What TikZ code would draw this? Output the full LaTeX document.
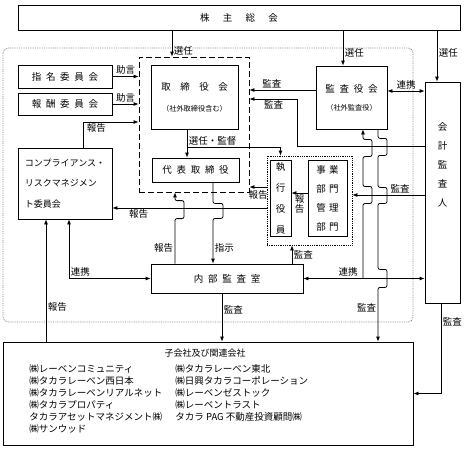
\documentclass[tikz,border=0pt]{standalone}
\usepackage{fontspec}
\setmainfont{Noto Sans CJK JP}
\usepackage{tikz}
\usetikzlibrary{arrows.meta, calc}

\begin{document}
\begin{tikzpicture}[x=1pt, y=-1pt, line width=0.8pt,
	box/.style={draw, inner sep=0pt, font=\fontsize{9.5}{12}\selectfont},
	lbl/.style={font=\fontsize{9.5}{10}\selectfont, inner sep=1.5pt},
	arr/.style={-{Latex[length=5pt, width=4pt]}},
	dbl/.style={{Latex[length=5pt, width=4pt]}-{Latex[length=5pt, width=4pt]}}]
			\useasboundingbox (0,0) rectangle (467,450);

			% Draw the group frame
			\draw[gray, densely dotted, rounded corners=5pt] (3,48) rectangle (413,322);

			% Draw the boxes
			\node[box, minimum width=442, minimum height=25] (soukai) at (239,17.5) {株\hspace{1.4em}主\hspace{1.4em}総\hspace{1.4em}会};
			\node[box, dash pattern=on 6pt off 3pt, minimum width=110, minimum height=135] (board) at (194,124.5) {};
			\node[box, align=center, minimum width=87, minimum height=64] (torikai) at (194.5,97) {取　締　役　会\\[9pt]{\fontsize{7.2}{9}\selectfont （社外取締役含む）}};
			\node[box, minimum width=87, minimum height=24] (daihyo) at (195.5,170) {代\enspace 表\enspace 取\enspace 締\enspace 役};
			\node[box, minimum width=94, minimum height=23] (shimei) at (65,76.5) {指\enspace 名\enspace 委\enspace 員\enspace 会};
			\node[box, minimum width=94, minimum height=22] (hoshu) at (65,104) {報\enspace 酬\enspace 委\enspace 員\enspace 会};
			\node[box, align=left, minimum width=94, minimum height=71, font=\fontsize{9}{20.5}\selectfont] (comp) at (65,183.5) {コンプライアンス・\\リスクマネジメン\\ト委員会};
			\node[box, align=center, minimum width=71, minimum height=63] (kansa) at (351.5,97.5) {監\enspace 査\enspace 役\enspace 会\\[6pt]{\fontsize{7.2}{9}\selectfont （社外監査役）}};
			\node[box, minimum width=35, minimum height=221] (kaikei) at (442.5,192.5) {};
			\node[align=center, font=\fontsize{9.5}{19}\selectfont] (kaikeitxt) at (442.5,165) {会\\計\\監\\査\\人};
			\node[box, densely dotted, minimum width=85, minimum height=89] (shikkogrp) at (309.5,200.5) {};
			\node[box, align=center, minimum width=21, minimum height=76, font=\fontsize{9.5}{21}\selectfont] (shikko) at (280.5,198) {執\\行\\役\\員};
			\node[box, align=center, minimum width=39, minimum height=76, font=\fontsize{9.5}{19}\selectfont] (jigyo) at (327.5,198) {事\hspace{3.5pt}業\\部\hspace{3.5pt}門\\管\hspace{3.5pt}理\\部\hspace{3.5pt}門};
			\node[box, minimum width=152, minimum height=29] (naibu) at (227,278.5) {内\enspace 部\enspace 監\enspace 査\enspace 室};
			\node[box, minimum width=410, minimum height=103] (kogaisha) at (208,393.5) {};

			% Draw the group companies
			\node[font=\fontsize{9}{12}\selectfont] (kgtitle) at (205,353) {子会社及び関連会社};
			\node[anchor=north west, inner sep=0pt, font=\fontsize{9.5}{12}\selectfont] (kglist) at (29,364) {%
				\begin{tabular}{@{}p{146pt}@{}l@{}}
				㈱レーベンコミュニティ & ㈱タカラレーベン東北\\
				㈱タカラレーベン西日本 & ㈱日興タカラコーポレーション\\
				㈱タカラレーベンリアルネット & ㈱レーベンゼストック\\
				㈱タカラプロパティ & ㈱レーベントラスト\\
				タカラアセットマネジメント㈱ & タカラ PAG 不動産投資顧問㈱\\
				㈱サンウッド &
				\end{tabular}};

			% Draw the arrows from the shareholders
			\draw[arr] ([xshift=-22pt]board.north |- soukai.south) -- node[lbl, right, pos=0.8] {選任} ([xshift=-22pt]board.north);
			\draw[arr] ([xshift=-8.5pt]kansa.north |- soukai.south) -- node[lbl, right, pos=0.64] {選任} ([xshift=-8.5pt]kansa.north);
			\draw[arr] ([xshift=-5.5pt]kaikei.north |- soukai.south) -- node[lbl, right, pos=0.44] {選任} ([xshift=-5.5pt]kaikei.north);

			% Draw the committees
			\draw[arr] (shimei.east) -- node[lbl, above] {助言} (shimei.east -| board.west);
			\draw[arr] (hoshu.east) -- node[lbl, above] {助言} (hoshu.east -| board.west);
			\draw[arr] ([xshift=18pt]comp.north) |- node[lbl, below, pos=0.62] {報告} ([yshift=2.5pt]board.west);

			% Draw the board arrows
			\coordinate (sel) at (187,147);
			\draw[arr] ([xshift=-7.5pt]torikai.south) -- ([xshift=-7.5pt]torikai.south |- daihyo.north);
			\draw[arr] (sel) node[lbl, above right] {選任・監督} -| (shikkogrp.north -| shikko.north);

			% Draw the audit arrows
			\draw[arr] ([yshift=7.5pt]kansa.west) -- node[lbl, above, pos=0.66] {監査} ([yshift=7.5pt]kansa.west -| board.east);
			\draw[arr] ([yshift=46.5pt]kaikei.west) -- ++(-127,0) |- node[lbl, below, pos=0.75] {監査} ([yshift=25.5pt]board.east);
			\draw[dbl] ([yshift=6.5pt]kansa.east) -- node[lbl, above] {連携} ([yshift=6.5pt]kansa.east -| kaikei.west);
			\draw[arr] ([yshift=-2.5pt]kaikei.west) -- node[lbl, above, pos=0.34] {監査} ([yshift=-2.5pt]kaikei.west -| shikkogrp.east);

			% Draw the reports of the officers
			\draw[arr] ([yshift=5pt]jigyo.west) -- node[lbl, below, align=center] {報\\告} ([yshift=5pt]jigyo.west -| shikko.east);
			\draw[arr] ([yshift=13.5pt]shikkogrp.west) -- node[lbl, below, yshift=-2pt] {報告} ([yshift=13.5pt]shikkogrp.west -| board.east);
			\draw[arr] ([yshift=-7.5pt]shikkogrp.west) -- node[lbl, below, pos=0.83] {報告} ([yshift=-7.5pt]shikkogrp.west -| comp.east);

			% Draw the internal audit arrows (with jumps)
			\draw[arr, rounded corners=2pt] ([xshift=-52pt]naibu.north) -- node[lbl, left, pos=0.35] {報告} ++(0,-45) -- ++(9,0) -- ++(0,-18) -- ++(-9,0) -- ([xshift=-52pt]naibu.north |- board.south);
			\draw[arr, rounded corners=2pt] ([xshift=17.5pt]daihyo.south) -- ++(0,21) -- ++(10,0) -- ++(0,15) -- ++(-10,0) -- node[lbl, right, pos=0.65] {指示} ([xshift=17.5pt]daihyo.south |- naibu.north);
			\draw[arr] ([xshift=65pt]naibu.north) -- node[lbl, right] {監査} ([xshift=65pt]naibu.north |- shikkogrp.south);
			\draw[dbl] ([xshift=4pt]comp.south) |- node[lbl, above, pos=0.57] {連携} (naibu.west);
			\draw[arr] ([xshift=-162pt]kogaisha.north) -- node[lbl, right, pos=0.28] {報告} ([xshift=-162pt]kogaisha.north |- comp.south);
			\draw[arr] ([xshift=-5pt]naibu.south) -- node[lbl, right, pos=0.35] {監査} ([xshift=-5pt]naibu.south |- kogaisha.north);
			\draw[dbl] (naibu.east) -- node[lbl, above, pos=0.37] {連携} (naibu.east -| kaikei.west);

			% Draw the lines of the audit board
			\coordinate (jA) at ([xshift=11.5pt]kansa.south |- naibu.east);
			\draw[arr, rounded corners=2pt] (jA) -- ++(0,-75) -- ++(9,0) -- ++(0,-17) -- ++(-9,0) -- ++(0,-30) -- ++(9,0) -- ++(0,-17) -- ++(-9,0) -- (jA |- kansa.south);
			\draw[arr, rounded corners=2pt] ([xshift=26.5pt]kansa.south) -- ++(0,9) -- ++(9,0) -- ++(0,17) -- ++(-9,0) -- ++(0,32) -- ++(9,0) -- ++(0,16) -- ++(-9,0) -- ++(0,66) -- ++(9,0) -- ++(0,18) -- ++(-9,0) -- node[lbl, left, pos=0.38] {監査} ([xshift=26.5pt]kansa.south |- kogaisha.north);
			\draw[arr] ([xshift=-1.5pt]kaikei.south) |- node[lbl, right, pos=0.1] {監査} (kogaisha.east);

		\end{tikzpicture}
\end{document}
